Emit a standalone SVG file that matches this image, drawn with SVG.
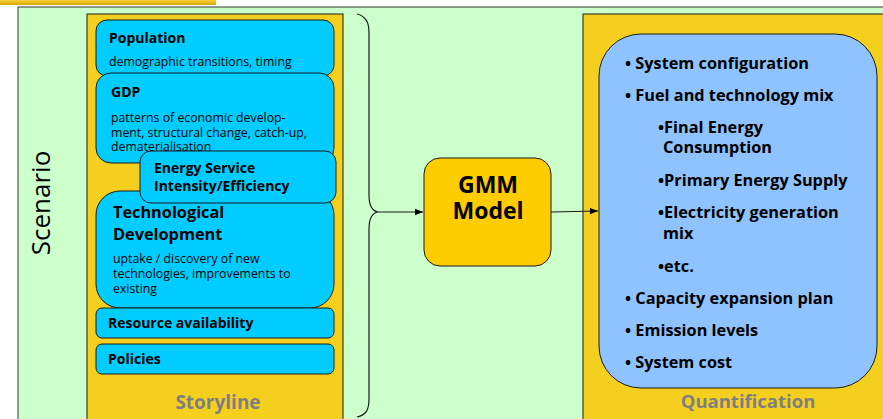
<svg xmlns="http://www.w3.org/2000/svg" width="883" height="419" viewBox="0 0 883 419">
<defs>
<linearGradient id="band" x1="0" y1="0" x2="0" y2="1">
<stop offset="0" stop-color="#F7D23A"/>
<stop offset="1" stop-color="#D9A800"/>
</linearGradient>
<marker id="arr" viewBox="0 0 10 10" refX="10" refY="5" markerWidth="8" markerHeight="8" markerUnits="userSpaceOnUse" orient="auto">
<path d="M0,1 L10,5 L0,9 z" fill="#000"/>
</marker>
<style>
text{font-family:"Open Sans","Liberation Sans",sans-serif;fill:#000}
.b{font-weight:bold}
.box{fill:#00CCFF;stroke:#1a1a1a;stroke-width:1}
.yel{fill:#F5CF1E;stroke:#1a1a1a;stroke-width:1}
.h{font-size:14px;font-weight:bold}
.s{font-size:12.3px}
.q{font-size:16.3px;font-weight:bold}
.lbl{font-weight:bold;fill:#7F7F7F}
</style>
</defs>
<rect x="0" y="0" width="883" height="419" fill="#fff"/>
<rect x="0" y="0" width="216" height="5" fill="url(#band)"/>
<g id="scenario">
<rect x="18" y="7" width="880" height="420" fill="#CCFFCC" stroke="#333" stroke-width="1"/>
<text transform="translate(50,203) rotate(-90)" text-anchor="middle" font-size="26">Scenario</text>
</g>
<g id="storyline">
<rect class="yel" x="87" y="14" width="256" height="410"/>
<text class="lbl" x="218" y="409" text-anchor="middle" font-size="19">Storyline</text>
</g>
<g id="population">
<rect class="box" x="96" y="20" width="238" height="56" rx="11"/>
<text class="h" x="109" y="43">Population</text>
<text class="s" x="109" y="66">demographic transitions, timing</text>
</g>
<g id="gdp">
<rect class="box" x="96" y="73" width="238" height="90" rx="15"/>
<text class="h" x="111" y="97">GDP</text>
<text class="s" x="111" y="122">patterns of economic develop-</text>
<text class="s" x="111" y="137">ment, structural change, catch-up,</text>
<text class="s" x="111" y="151">dematerialisation</text>
</g>
<g id="technological">
<rect class="box" x="96" y="191" width="238" height="117" rx="24"/>
<text class="b" x="113" y="218" font-size="16.3">Technological</text>
<text class="b" x="113" y="240" font-size="16.3">Development</text>
<text class="s" x="113" y="263">uptake / discovery of new</text>
<text class="s" x="113" y="278">technologies, improvements to</text>
<text class="s" x="113" y="293">existing</text>
</g>
<g id="energy-service">
<rect class="box" x="140" y="151" width="196" height="52" rx="11"/>
<text class="h" x="154" y="173">Energy Service</text>
<text class="h" x="154" y="191">Intensity/Efficiency</text>
</g>
<g id="resource">
<rect class="box" x="96" y="308" width="238" height="30" rx="6"/>
<text class="h" x="108" y="328">Resource availability</text>
</g>
<g id="policies">
<rect class="box" x="96" y="344" width="238" height="30" rx="6"/>
<text class="h" x="108" y="364">Policies</text>
</g>
<g id="gmm">
<rect x="424" y="158" width="127" height="108" rx="16" fill="#FFCC00" stroke="#1a1a1a" stroke-width="1"/>
<text class="b" x="488" y="193" font-size="23" text-anchor="middle">GMM</text>
<text class="b" x="488" y="219" font-size="23" text-anchor="middle">Model</text>
</g>
<g id="quantification">
<rect class="yel" x="583" y="14" width="320" height="410"/>
<rect x="599" y="34" width="278" height="354" rx="42" fill="#8EC3FF" stroke="#1a1a1a" stroke-width="1"/>
<text class="q" x="625" y="69">• System configuration</text>
<text class="q" x="625" y="101">• Fuel and technology mix</text>
<text class="q" x="658" y="133">•Final Energy</text>
<text class="q" x="663" y="153">Consumption</text>
<text class="q" x="658" y="186">•Primary Energy Supply</text>
<text class="q" x="658" y="218">•Electricity generation</text>
<text class="q" x="663" y="239">mix</text>
<text class="q" x="658" y="272">•etc.</text>
<text class="q" x="625" y="304">• Capacity expansion plan</text>
<text class="q" x="625" y="336">• Emission levels</text>
<text class="q" x="625" y="368">• System cost</text>
<text class="lbl" x="748" y="408" text-anchor="middle" font-size="18.5">Quantification</text>
</g>
<g id="connectors" fill="none" stroke="#1a1a1a" stroke-width="1.2">
<path d="M357,14 C366,16 369,22 369,32 L369,195 C369,206 372,211 378,212 C372,213 369,218 369,229 L369,399 C369,410 366,415 357,417"/>
<path d="M378,212 L423,212" marker-end="url(#arr)"/>
<path d="M551,212 L598,211" marker-end="url(#arr)"/>
</g>
</svg>
